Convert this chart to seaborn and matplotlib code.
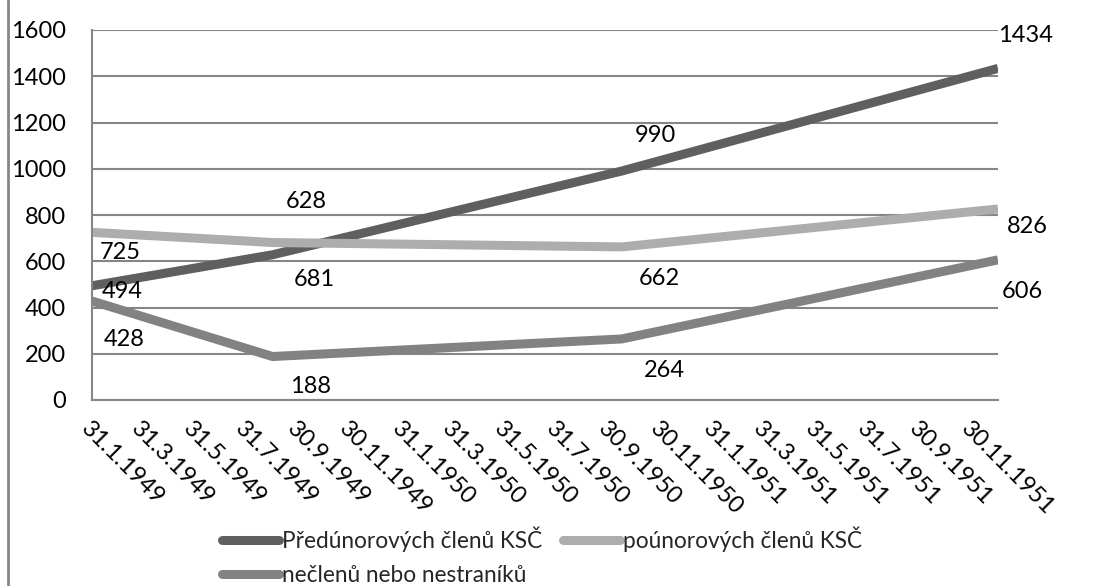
import matplotlib
matplotlib.use('Agg')
import matplotlib.pyplot as plt
import matplotlib.dates as mdates
from matplotlib.lines import Line2D
import seaborn as sns
import pandas as pd

# ---- data ----
dates = ['1949-01-31', '1949-08-31', '1950-10-15', '1951-12-31']
series_names = ['Předúnorových členů KSČ', 'poúnorových členů KSČ', 'nečlenů nebo nestraníků']
predunorovi = [494, 628, 990, 1434]
pounorovi = [725, 681, 662, 826]
nestranici = [428, 188, 264, 606]
tick_dates = ['1949-01-31', '1949-03-31', '1949-05-31', '1949-07-31', '1949-09-30', '1949-11-30',
              '1950-01-31', '1950-03-31', '1950-05-31', '1950-07-31', '1950-09-30', '1950-11-30',
              '1951-01-31', '1951-03-31', '1951-05-31', '1951-07-31', '1951-09-30', '1951-11-30']
tick_labels = ['31.1.1949', '31.3.1949', '31.5.1949', '31.7.1949', '30.9.1949', '30.11.1949',
               '31.1.1950', '31.3.1950', '31.5.1950', '31.7.1950', '30.9.1950', '30.11.1950',
               '31.1.1951', '31.3.1951', '31.5.1951', '31.7.1951', '30.9.1951', '30.11.1951']
y_ticks = [0, 200, 400, 600, 800, 1000, 1200, 1400, 1600]

# ---- styling (positions / colours) ----
colors = ['#5f5f5f', '#adadad', '#828282']
label_offsets = [
    [(30, -6), (34, 53), (34, 36), (27, 33)],
    [(28, -20), (42, -37), (38, -32), (29, -18)],
    [(32, -38), (38, -30), (43, -32), (24, -32)],
]

sns.set_theme(style='white')
plt.rcParams['font.family'] = ['Lato', 'DejaVu Sans']
FS = 17
LEG_FS = 16.3

fig = plt.figure(figsize=(10.95, 5.86), dpi=100)
ax = fig.add_axes([92 / 1095, 1 - 400 / 586, (998 - 92) / 1095, (400 - 30) / 586])

values = [predunorovi, pounorovi, nestranici]
rows = []
for name, vals in zip(series_names, values):
    for d, v in zip(dates, vals):
        rows.append({'date': pd.Timestamp(d), 'value': v, 'series': name})
df = pd.DataFrame(rows)

sns.lineplot(data=df, x='date', y='value', hue='series', hue_order=series_names,
             palette=dict(zip(series_names, colors)), linewidth=6.5, ax=ax, legend=False,
             sort=False)
for ln in ax.get_lines():
    ln.set_solid_joinstyle('round')
    ln.set_solid_capstyle('butt')

ax.set_xlim(mdates.date2num(pd.Timestamp(dates[0])), mdates.date2num(pd.Timestamp(dates[-1])))
ax.set_ylim(0, 1600)
ax.set_yticks(y_ticks)
ax.set_yticklabels([str(t) for t in y_ticks], fontsize=FS, color='black')
ax.set_xticks([mdates.date2num(pd.Timestamp(t)) for t in tick_dates])
ax.set_xticklabels(tick_labels, fontsize=FS, color='black', rotation=-45,
                   ha='left', va='top', rotation_mode='anchor')
ax.tick_params(axis='y', length=0, pad=19)
ax.tick_params(axis='x', length=0, pad=13)
ax.set_xlabel('')
ax.set_ylabel('')

ax.yaxis.grid(True, color='#868686', linewidth=1.5)
ax.xaxis.grid(False)
ax.set_axisbelow(True)
for s in ['top', 'right']:
    ax.spines[s].set_visible(False)
for s in ['left', 'bottom']:
    ax.spines[s].set_color('#868686')
    ax.spines[s].set_linewidth(1.5)

# data labels
for vals, offs in zip(values, label_offsets):
    for d, v, off in zip(dates, vals, offs):
        ax.annotate(str(v), xy=(mdates.date2num(pd.Timestamp(d)), v), xytext=off,
                    textcoords='offset pixels', ha='center', va='center',
                    fontsize=FS, color='black', annotation_clip=False)

# legend (row1: series 1, 2; row2: series 3)
handles = [Line2D([0], [0], color=c, linewidth=6.5, solid_capstyle='round') for c in colors]
order = [0, 2, 1]
leg = fig.legend([handles[i] for i in order], [series_names[i] for i in order],
                 loc='upper left', bbox_to_anchor=(222 / 1095, 1 - 526 / 586), ncol=2,
                 frameon=False, fontsize=LEG_FS,
                 handlelength=2.5, handletextpad=0.13,
                 columnspacing=0.95, labelspacing=0.6, borderpad=0, borderaxespad=0)

# chart-area left border
fig.add_artist(Line2D([8 / 1095, 8 / 1095], [0, 1], color='#868686', linewidth=2,
                      transform=fig.transFigure))

fig.savefig('out.png', dpi=100)
